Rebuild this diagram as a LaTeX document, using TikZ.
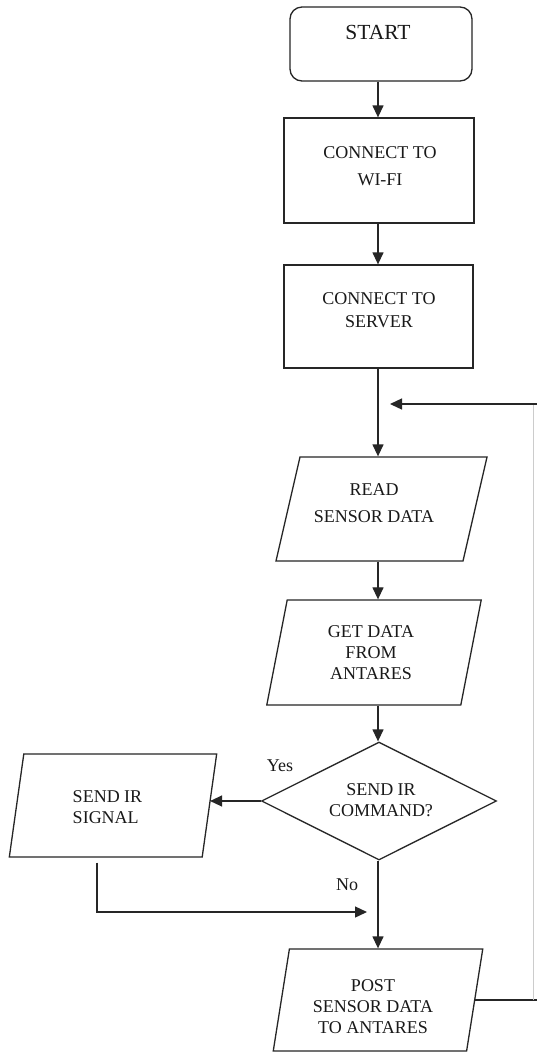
\documentclass[tikz,border=0pt]{standalone}
\usepackage{fontspec}
\setmainfont{Liberation Serif}
\usetikzlibrary{shapes.geometric,arrows.meta}
\begin{document}
\begin{tikzpicture}[x=1pt,y=-1pt,
  line/.style={line width=1.3pt, draw=black!85},
  arr/.style={line, -{Triangle[length=12pt,width=11pt]}},
  shapebase/.style={line, fill=white, inner sep=0pt},
  procbox/.style={shapebase, rectangle},
  termbox/.style={shapebase, rectangle, rounded corners=12pt},
  % slanted data box: height = 2 * inner ysep, slant follows the angles
  iobox/.style={line, fill=white, trapezium, minimum width=1pt, minimum height=1pt},
  decbox/.style={shapebase, diamond},
  txt/.style={font=\fontsize{18}{21}\selectfont, align=center, inner sep=0pt, text=black!90},
  faint/.style={line width=1pt, draw=black!20},
]
% canvas
\useasboundingbox (0,0) rectangle (537,1053);
\fill[white] (0,0) rectangle (537,1053);

% flow shapes
\node[termbox, minimum width=182pt, minimum height=74pt] (start) at (381,44) {};
\node[procbox, minimum width=190pt, minimum height=105pt] (wifi) at (379,170.5) {};
\node[procbox, minimum width=189pt, minimum height=103pt] (server) at (378.5,316.5) {};
\node[iobox, trapezium left angle=77, trapezium right angle=103,
      inner xsep=81.5pt, inner ysep=52pt] (read) at (381.5,509) {};
\node[iobox, trapezium left angle=79, trapezium right angle=101,
      inner xsep=86.8pt, inner ysep=52.5pt] (get) at (374,652.5) {};
\node[decbox, minimum width=235pt, minimum height=118pt] (dec) at (379,801) {};
\node[iobox, trapezium left angle=82, trapezium right angle=98,
      inner xsep=89.2pt, inner ysep=51.5pt] (ir) at (113,805.5) {};
\node[iobox, trapezium left angle=81, trapezium right angle=99,
      inner xsep=88.6pt, inner ysep=51pt] (post) at (378,1000) {};

% texts
\node[txt, font=\fontsize{21.5}{24}\selectfont] (t-start) at (378,32) {START};
\node[txt] (t-wifi) at (380,166.5) {CONNECT TO\\[6pt]WI-FI};
\node[txt] (t-server) at (379,310.5) {CONNECT TO\\[2pt]SERVER};
\node[txt] (t-read) at (374,503.5) {READ\\[6pt]SENSOR DATA};
\node[txt] (t-get) at (371,652.5) {GET DATA\\FROM\\ANTARES};
\node[txt] (t-dec) at (381,800) {SEND IR\\COMMAND?};
\node[txt, align=left] (t-ir) at (107.5,807) {SEND IR\\SIGNAL};
\node[txt] (t-post) at (373,1006.5) {POST\\SENSOR DATA\\TO ANTARES};
\node[txt] (t-yes) at (280,766) {Yes};
\node[txt] (t-no) at (347,885) {No};

% helper points
\coordinate (axis) at (378,0);
\coordinate (merge) at (378,912);
\coordinate (loopbot) at (537,1000);
\coordinate (looptop) at (537,404);

% connectors
\draw[arr] (start.south -| axis) -- (wifi.north -| axis);
\draw[arr] (wifi.south -| axis) -- (server.north -| axis);
\draw[arr] (server.south -| axis) -- (read.north -| axis);
\draw[arr] (read.south -| axis) -- (get.north -| axis);
\draw[arr] (get.south -| axis) -- (dec.north -| axis);
\draw[arr] (dec.west) -- (ir.east |- dec.west);
\draw[arr] (dec.south -| axis) -- (post.north -| axis);
\draw[arr] ([xshift=-16pt,yshift=-5pt]ir.south) |- ([xshift=-11pt]merge);
\draw[line] (post.east) -- (loopbot);
\draw[faint] ([xshift=-4pt]loopbot) -- ([xshift=-4pt]looptop);
\draw[arr] (looptop) -- ([xshift=12pt]looptop -| axis);
\end{tikzpicture}
\end{document}
